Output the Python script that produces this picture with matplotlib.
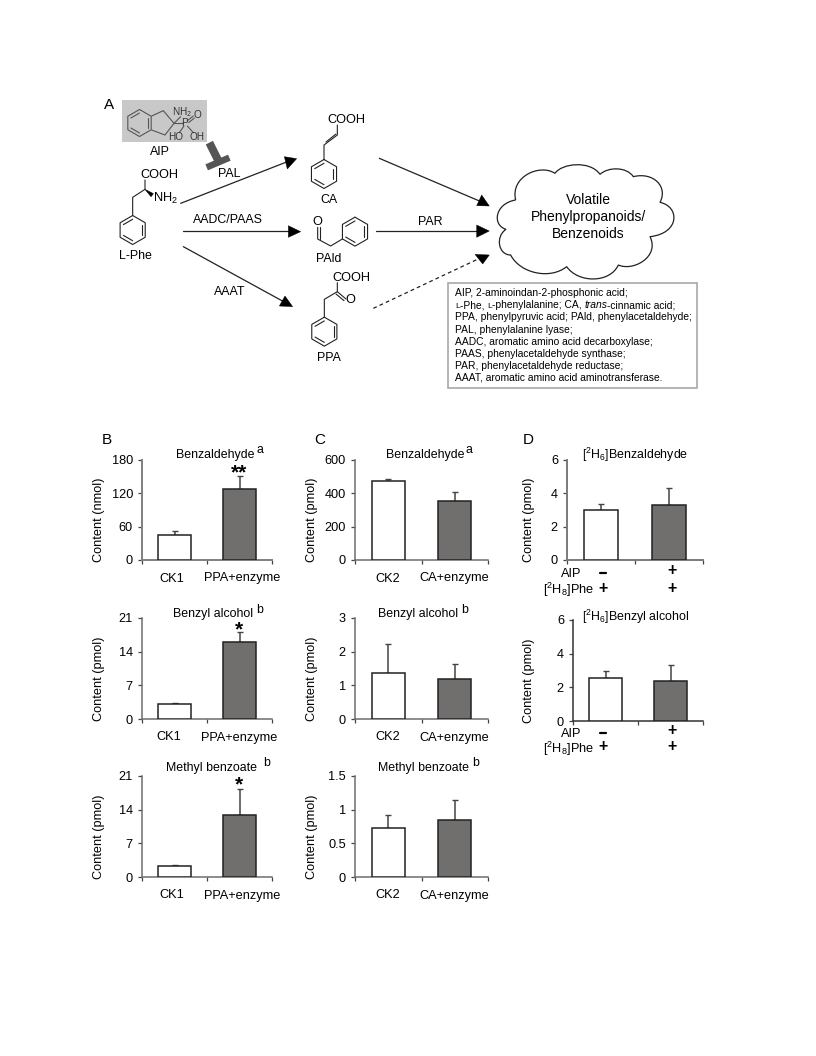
import numpy as np
import matplotlib
matplotlib.use("Agg")
import matplotlib.pyplot as plt
from matplotlib.path import Path
from matplotlib.patches import PathPatch, Polygon, Rectangle

plt.rcParams['font.family'] = ['Liberation Sans', 'DejaVu Sans']
plt.rcParams['mathtext.fontset'] = 'custom'
plt.rcParams['mathtext.rm'] = 'Liberation Sans'
plt.rcParams['mathtext.it'] = 'Liberation Sans:italic'
plt.rcParams['mathtext.default'] = 'regular'

# values
b_groups = ["CK1", "PPA+enzyme"]
c_groups = ["CK2", "CA+enzyme"]
d_groups = ["", ""]

b1_vals, b1_tops = [45, 127], [53, 151]
b2_vals, b2_tops = [3.2, 16], [3.4, 18]
b3_vals, b3_tops = [2.2, 12.8], [2.4, 18.4]
c1_vals, c1_tops = [472, 355], [484, 410]
c2_vals, c2_tops = [1.38, 1.2], [2.23, 1.62]
c3_vals, c3_tops = [0.73, 0.84], [0.92, 1.14]
d1_vals, d1_tops = [3.0, 3.3], [3.35, 4.3]
d2_vals, d2_tops = [2.55, 2.4], [2.95, 3.3]

b1_ticks = [0, 60, 120, 180]
b2_ticks = [0, 7, 14, 21]
c1_ticks = [0, 200, 400, 600]
c2_ticks = [0, 1, 2, 3]
c3_ticks = [0, 0.5, 1, 1.5]
c3_ticklabels = ["0", "0.5", "1", "1.5"]
d_ticks = [0, 2, 4, 6]

legend_lines = [
    "AIP, 2-aminoindan-2-phosphonic acid;",
    None,
    "PPA, phenylpyruvic acid; PAld, phenylacetaldehyde;",
    "PAL, phenylalanine lyase;",
    "AADC, aromatic amino acid decarboxylase;",
    "PAAS, phenylacetaldehyde synthase;",
    "PAR, phenylacetaldehyde reductase;",
    "AAAT, aromatic amino acid aminotransferase.",
]

W, H = 816, 1056
DARK = '#716e6e'
fig = plt.figure(figsize=(W / 100, H / 100), dpi=100)
TS = 8.9


def bar_panel(left, right, top, bottom, vals, tops, ticks, groups, ylab, label_x,
              ticklabels=None, spine='#6e6e6e', lw=1.1, shift=(0, 0)):
    ax = fig.add_axes([left / W, 1 - bottom / H, (right - left) / W, (bottom - top) / H])
    ax.bar([0, 1], vals, width=0.5, color=['white', DARK], edgecolor='#222222', linewidth=1.1, zorder=3)
    errs = [t - v for t, v in zip(tops, vals)]
    ax.errorbar([0, 1], vals, yerr=[[0, 0], errs], fmt='none', ecolor='#444444',
                elinewidth=1.1, capsize=2.5, capthick=1.0, zorder=2)
    ax.set_xlim(-0.5, 1.5)
    ax.set_ylim(ticks[0], ticks[-1])
    ax.set_yticks(ticks)
    if ticklabels:
        ax.set_yticklabels(ticklabels)
    ax.set_xticks([-0.5, 0.5, 1.5])
    ax.set_xticklabels([])
    ax.set_xticks([shift[0], 1 + shift[1]], labels=groups, minor=True)
    ax.tick_params(axis='x', which='minor', length=0, labelsize=TS + 0.3, pad=9)
    ax.tick_params(axis='x', which='major', length=3, width=0.9, color='#444444')
    ax.tick_params(axis='y', length=3, width=0.9, color='#444444', labelsize=TS + 0.3, pad=3.5)
    for s in ['top', 'right']:
        ax.spines[s].set_visible(False)
    for s in ['left', 'bottom']:
        ax.spines[s].set_color(spine)
        ax.spines[s].set_linewidth(lw)
    ax.set_ylabel(ylab, fontsize=TS + 0.3)
    ax.yaxis.set_label_coords((label_x - left) / (right - left), 0.4)
    return ax


bar_panel(142, 272, 460, 560, b1_vals, b1_tops, b1_ticks, b_groups, "Content (nmol)", 105, spine='#808080', lw=1.4, shift=(-0.04, 0.04))
bar_panel(142, 272, 618, 719, b2_vals, b2_tops, b2_ticks, b_groups, "Content (pmol)", 105, shift=(-0.085, 0))
bar_panel(142, 272, 776, 877, b3_vals, b3_tops, b2_ticks, b_groups, "Content (pmol)", 105, shift=(-0.04, 0.04))
bar_panel(355, 488, 460, 560, c1_vals, c1_tops, c1_ticks, c_groups, "Content (pmol)", 318)
bar_panel(355, 488, 618, 719, c2_vals, c2_tops, c2_ticks, c_groups, "Content (pmol)", 318)
bar_panel(355, 488, 776, 877, c3_vals, c3_tops, c3_ticks, c_groups, "Content (pmol)", 318, ticklabels=c3_ticklabels)
bar_panel(567, 703, 460, 560, d1_vals, d1_tops, d_ticks, d_groups, "Content (pmol)", 535, spine='#7a7a7a', lw=1.4)
bar_panel(573, 703, 620, 721, d2_vals, d2_tops, d_ticks, d_groups, "Content (pmol)", 535, spine='#333333')

# overlay in pixel coordinates for the pathway and the loose labels
ov = fig.add_axes([0, 0, 1, 1], zorder=10)
ov.set_xlim(0, W)
ov.set_ylim(H, 0)
ov.axis('off')
ov.patch.set_alpha(0)


def z1(x, y):
    return 90 + x / 3, 90 + y / 3


def z2(x, y):
    return 370 + x / 3, 140 + y / 3


def bond(pts, color='#222222', lw=0.8, cap='round', **kw):
    xs, ys = zip(*pts)
    ov.plot(xs, ys, color=color, lw=lw, solid_capstyle=cap, **kw)


def benzene(cx, cy, r=14.5, color='#222222'):
    ang = np.radians(np.arange(0, 360, 60) + 90)
    px = cx + r * np.cos(ang)
    py = cy - r * np.sin(ang)
    bond(list(zip(np.r_[px, px[0]], np.r_[py, py[0]])), color=color)
    for i in (0, 2, 4):
        j = (i + 1) % 6
        a = (cx + 0.74 * (px[i] - cx), cy + 0.74 * (py[i] - cy))
        b = (cx + 0.74 * (px[j] - cx), cy + 0.74 * (py[j] - cy))
        bond([a, b], color=color)


def label(x, y, s, size=TS, **kw):
    kw.setdefault('ha', 'center')
    kw.setdefault('va', 'center')
    ov.text(x, y, s, fontsize=size, **kw)


def head(pts, color='black'):
    ov.add_patch(Polygon(pts, closed=True, fc=color, ec=color, lw=0.3, zorder=4))


# panel letters
label(109, 105, "A", size=11)
label(107, 440, "B", size=11)
label(320, 440, "C", size=11)
label(528, 440, "D", size=11)

# AIP box
ov.add_patch(Rectangle((122, 100), 85, 42, fc='#c8c8c8', ec='none'))
g = '#555555'
benzene(139.5, 123, r=13.5, color=g)
bond([z1(185, 78), z1(220, 62), z1(252, 100), z1(225, 135), z1(185, 120)], color=g)
bond([z1(252, 100), z1(272, 80)], color=g)
bond([z1(252, 100), z1(278, 100)], color=g)
bond([z1(292, 92), z1(310, 78)], color=g)
bond([z1(296, 98), z1(313, 84)], color=g)
bond([z1(282, 108), z1(268, 128)], color=g)
bond([z1(292, 108), z1(310, 128)], color=g)
label(*z1(275, 65), "NH$_2$", size=7.2, color='#333333')
label(*z1(285, 99), "P", size=7.2, color='#333333')
label(*z1(322, 74), "O", size=7.2, color='#333333')
label(*z1(258, 140), "HO", size=7.2, color='#333333')
label(*z1(322, 140), "OH", size=7.2, color='#333333')
label(*z1(210, 185), "AIP", size=TS)

# inhibition bar
bond([z1(358, 158), z1(388, 218)], color='#555555', lw=5.8, cap='butt')
bond([z1(350, 232), z1(418, 203)], color='#555555', lw=4.7, cap='butt')

# L-Phe
benzene(*z1(128, 420))
bond([z1(128, 375), z1(128, 322), z1(165, 298), z1(165, 270)])
ov.add_patch(Polygon([z1(165, 298), z1(183, 320), z1(190, 311)], fc='black', ec='black', lw=0.4))
label(*z1(208, 256), "COOH", size=TS + 0.3)
label(*z1(226, 325), "NH$_2$", size=TS + 0.3)
label(*z1(137, 497), "L-Phe", size=TS)

# CA
benzene(*z1(702, 252))
bond([z1(702, 207), z1(702, 165), z1(742, 135), z1(742, 105)])
bond([z1(708, 156), z1(738, 132)])
label(*z1(768, 90), "COOH", size=TS + 0.3)
label(*z1(716, 330), "CA", size=TS)

# PAld
benzene(*z1(795, 425))
bond([z1(757, 447), z1(722, 468), z1(683, 447), z1(683, 412)])
bond([z1(690, 447), z1(690, 412)])
label(*z1(682, 395), "O", size=TS + 0.3)
label(*z1(715, 507), "PAld", size=TS)

# PPA
benzene(*z1(703, 725))
bond([z1(703, 680), z1(703, 628), z1(742, 605), z1(742, 578)])
bond([z1(742, 605), z1(768, 627)])
bond([z1(738, 612), z1(762, 632)])
label(*z1(785, 563), "COOH", size=TS + 0.3)
label(*z1(782, 631), "O", size=TS + 0.3)
label(*z1(718, 803), "PPA", size=TS)

# enzyme names
label(*z1(418, 251), "PAL", size=TS)
label(*z1(413, 391), "AADC/PAAS", size=TS)
label(*z1(418, 605), "AAAT", size=TS)
label(*z2(180, 247), "PAR", size=TS)

# arrows
bond([z1(272, 340), z1(600, 212)], color='#222222', lw=0.9)
head([z1(583, 200), z1(620, 206), z1(592, 237)])
bond([z1(278, 424), z1(610, 424)], color='#222222', lw=0.9)
head([z1(595, 407), z1(632, 425), z1(595, 442)])
bond([z1(280, 470), z1(590, 640)], color='#222222', lw=0.9)
head([z1(568, 648), z1(608, 650), z1(585, 618)])
bond([z2(28, 55), z2(340, 188)], color='#222222', lw=0.9)
head([z2(320, 197), z2(358, 198), z2(335, 165)])
bond([z2(18, 273), z2(335, 273)], color='#222222', lw=0.9)
head([z2(320, 255), z2(358, 273), z2(320, 292)])
bond([z2(10, 505), z2(335, 352)], color='#222222', lw=0.9, linestyle=(0, (3, 2.5)))
head([z2(315, 343), z2(358, 345), z2(338, 372)])

# cloud: (cusp, control, control) going clockwise
cloud = [
    ((437, 180), (420, 110), (510, 70)),
    ((555, 100), (575, 70), (660, 60)),
    ((690, 103), (715, 80), (770, 80)),
    ((790, 110), (850, 95), (895, 140)),
    ((870, 187), (930, 200), (930, 280)),
    ((840, 290), (870, 350), (790, 395)),
    ((745, 375), (720, 430), (625, 430)),
    ((590, 380), (540, 420), (450, 400)),
    ((422, 345), (385, 345), (375, 290)),
    ((408, 268), (365, 255), (375, 190)),
]
verts, codes = [], []
for i, (start, c1, c2) in enumerate(cloud):
    end = cloud[(i + 1) % len(cloud)][0]
    if i == 0:
        verts.append(z2(*start))
        codes.append(Path.MOVETO)
    verts += [z2(*c1), z2(*c2), z2(*end)]
    codes += [Path.CURVE4] * 3
ov.add_patch(PathPatch(Path(verts, codes), fc='white', ec='#222222', lw=0.9))
label(588, 200, "Volatile", size=10)
label(588, 217, "Phenylpropanoids/", size=10)
label(588, 234, "Benzenoids", size=10)

# abbreviations box
ov.add_patch(Rectangle((448, 283), 249, 105, fc='white', ec='#a8a8a8', lw=1.2))
FS = 7.37
renderer = fig.canvas.get_renderer()


def width(s, size, style):
    a = ov.text(0, 0, s + '.', fontsize=size, style=style)
    b = ov.text(0, 0, '.', fontsize=size, style=style)
    w = a.get_window_extent(renderer).width - b.get_window_extent(renderer).width
    a.remove()
    b.remove()
    return w


def runs(x, y, parts):
    for s, size, style in parts:
        ov.text(x, y, s, fontsize=size, style=style, va='baseline', ha='left')
        x += width(s, size, style)


for i, line in enumerate(legend_lines):
    y = 293.3 + i * 12.1
    if line is None:
        runs(455, y + 2.9, [("L", 6.1, 'normal'), ("-Phe, ", FS, 'normal'), ("L", 6.1, 'normal'),
                            ("-phenylalanine; CA, ", FS, 'normal'), ("trans", FS, 'italic'),
                            ("-cinnamic acid;", FS, 'normal')])
    else:
        ov.text(455, y, line, fontsize=FS, va='center', ha='left')

# chart titles
label(215, 455, "Benzaldehyde", size=TS)
label(260, 450, "a", size=TS)
label(425, 455, "Benzaldehyde", size=TS)
label(469, 450, "a", size=TS)
label(213, 614, "Benzyl alcohol", size=TS)
label(260, 610, "b", size=TS)
label(418, 614, "Benzyl alcohol", size=TS)
label(465, 610, "b", size=TS)
label(212, 768, "Methyl benzoate", size=TS)
label(267, 763, "b", size=TS)
label(423, 768, "Methyl benzoate", size=TS)
label(476, 763, "b", size=TS)
label(635, 455, "[$^{2}$H$_{6}$]Benzaldehyde", size=TS)
label(636, 617, "[$^{2}$H$_{6}$]Benzyl alcohol", size=TS)

# significance stars
label(239, 473, "**", size=15, fontweight='bold')
label(239, 630, "*", size=15, fontweight='bold')
label(239, 785, "*", size=15, fontweight='bold')

# treatment rows under panel D
for y_aip, y_phe in [(574, 590), (734, 749)]:
    label(571, y_aip, "AIP", size=TS + 0.3)
    label(569, y_phe, "[$^{2}$H$_{8}$]Phe", size=TS + 0.3)
    bond([(600, y_aip - 1), (605.5, y_aip - 1)], color='black', lw=1.6)
    label(672, y_aip - 3, "+", size=11.5, fontweight='bold')
    label(603, y_phe - 2, "+", size=11.5, fontweight='bold')
    label(672, y_phe - 2, "+", size=11.5, fontweight='bold')

fig.savefig("out.png", dpi=100)
